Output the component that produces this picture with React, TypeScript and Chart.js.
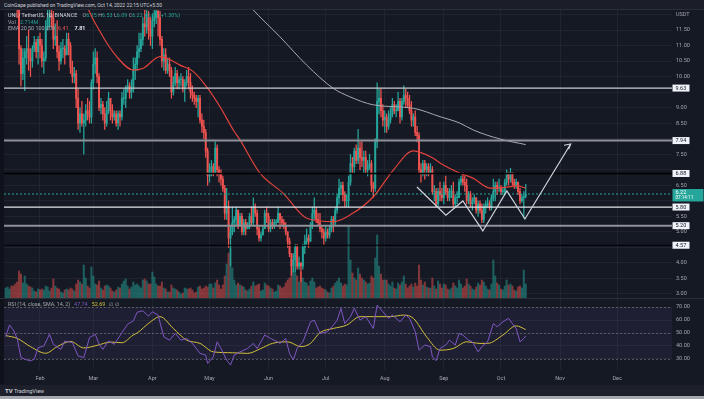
import React, { useEffect, useRef } from 'react';
import { Chart, registerables } from 'chart.js';
Chart.register(...registerables);

// ---------------- DATA ----------------
// day index: 0 = Jan 1, 2022. First candle = Jan 14, 2022
const FIRST_DAY = 13;
const FIRST_OPEN = 14.7;
const LAST_OPEN = 6.15;

const closes = [
  // Jan 14-31
  14.9, 15.2, 15.3, 14.3, 13.6, 12.8, 12.2, 10.9, 10.1, 10.6, 10.8, 10.9, 10.6, 10.5, 10.9, 11.1, 10.8, 11.2,
  // Feb
  11.0, 10.5, 10.6, 11.6, 11.9, 12.0, 11.9, 11.2, 11.3, 10.8, 10.5, 10.9, 10.9, 10.7, 11.2, 11.0, 10.3, 10.0, 10.1, 9.3, 8.5, 8.8, 8.5, 8.6, 8.9, 8.8, 8.7, 9.8,
  // Mar
  10.4, 10.6, 10.0, 9.0, 9.1, 8.8, 8.5, 8.9, 9.3, 8.9, 8.7, 8.8, 8.5, 8.8, 8.7, 9.3, 9.3, 9.6, 9.7, 9.5, 9.6, 10.2, 10.4, 10.8, 10.9, 11.2, 11.7, 11.6, 11.9, 11.5, 11.3,
  // Apr
  11.8, 11.9, 12.1, 11.9, 11.2, 10.5, 10.7, 10.2, 10.4, 10.2, 9.5, 9.8, 10.1, 9.8, 9.9, 9.9, 9.6, 9.8, 10.0, 9.8, 9.5, 9.4, 9.3, 9.2, 9.3, 8.6, 8.4, 8.2, 7.6, 6.8,
  // May
  7.0, 7.1, 6.9, 7.7, 7.0, 6.9, 6.7, 6.4, 5.6, 5.8, 4.8, 5.0, 5.3, 5.4, 5.7, 5.2, 5.5, 5.0, 5.3, 5.1, 5.2, 5.5, 5.3, 5.8, 5.6, 5.1, 4.8, 4.9, 5.1, 5.6, 5.5,
  // Jun
  5.1, 5.3, 5.2, 5.3, 5.3, 5.6, 5.4, 5.3, 5.2, 5.0, 4.7, 4.3, 3.9, 4.1, 4.5, 3.9, 4.0, 3.9, 4.5, 4.7, 4.8, 4.7, 5.2, 5.6, 5.7, 5.4, 5.3, 5.1, 5.0, 4.8,
  // Jul
  5.0, 4.9, 5.1, 5.4, 5.3, 5.7, 6.1, 6.4, 6.5, 6.2, 6.0, 6.0, 6.6, 7.2, 7.1, 7.6, 7.3, 7.7, 7.4, 7.3, 7.4, 7.0, 7.1, 7.2, 6.5, 6.4, 7.9, 9.2, 9.3, 8.9, 8.6,
  // Aug
  8.7, 8.4, 8.6, 8.8, 9.1, 8.9, 8.9, 9.2, 8.7, 9.2, 9.4, 9.3, 9.1, 8.9, 8.6, 8.7, 8.2, 8.1, 7.0, 6.9, 7.2, 7.0, 7.1, 6.9, 7.0, 6.3, 6.3, 5.9, 6.3, 6.2, 6.1,
  // Sep
  6.5, 6.3, 6.1, 6.3, 6.3, 5.9, 6.1, 6.1, 6.6, 6.7, 6.6, 6.5, 6.0, 6.2, 5.9, 6.0, 6.1, 5.7, 5.9, 5.7, 5.4, 5.8, 5.9, 5.9, 5.8, 6.1, 6.3, 6.5, 6.4, 6.4,
  // Oct 1-14
  6.3, 6.3, 6.6, 6.9, 6.7, 6.9, 6.6, 6.5, 6.6, 6.3, 6.0, 6.1, 6.14, 6.22,
];

const highs = [
  15.3, 15.6, 15.7, 15.4, 14.4, 13.8, 13.4, 12.4, 11.0, 10.9, 10.9, 11.3, 11.5, 10.9, 11.0, 11.3, 11.2, 11.3,
  11.4, 11.2, 10.8, 11.8, 12.3, 12.4, 12.6, 12.1, 11.7, 11.8, 11.0, 11.1, 11.2, 11.0, 11.4, 11.4, 11.1, 10.5, 10.3, 10.2, 9.6, 9.0, 9.2, 8.8, 9.1, 9.3, 9.2, 9.9,
  10.8, 10.9, 10.8, 10.1, 9.3, 9.2, 9.0, 9.2, 9.5, 9.3, 9.1, 8.9, 8.9, 8.9, 8.9, 9.5, 9.6, 9.7, 9.9, 9.8, 9.9, 10.6, 10.6, 11.0, 11.4, 11.4, 11.9, 12.5, 12.4, 12.1, 11.9,
  12.0, 12.6, 12.5, 12.3, 12.1, 11.3, 10.9, 10.9, 10.6, 10.6, 10.3, 10.0, 10.3, 10.2, 10.0, 10.1, 10.0, 9.9, 10.2, 10.3, 10.1, 9.7, 9.5, 9.4, 9.4, 9.4, 8.8, 8.6, 8.3, 7.7,
  7.2, 7.3, 7.2, 7.9, 7.8, 7.1, 7.0, 6.8, 6.5, 6.4, 6.0, 5.2, 5.8, 5.5, 5.8, 5.7, 5.6, 5.6, 5.4, 5.4, 5.3, 5.6, 5.8, 6.1, 5.9, 5.7, 5.2, 5.0, 5.2, 5.7, 5.8,
  5.6, 5.4, 5.4, 5.4, 5.4, 5.8, 5.6, 5.5, 5.4, 5.3, 5.0, 4.8, 4.3, 4.3, 4.6, 4.6, 4.2, 4.0, 4.6, 4.9, 5.1, 4.9, 5.3, 5.8, 6.1, 5.8, 5.6, 5.6, 5.2, 5.1,
  5.2, 5.1, 5.2, 5.5, 5.5, 5.8, 6.2, 6.7, 6.6, 6.6, 6.3, 6.2, 6.8, 7.5, 7.4, 7.7, 7.8, 8.3, 7.9, 7.9, 7.6, 7.6, 7.3, 7.5, 7.3, 6.6, 8.0, 9.8, 9.6, 9.6, 9.1,
  8.9, 8.8, 8.9, 9.0, 9.3, 9.2, 9.1, 9.5, 9.3, 9.3, 9.7, 9.6, 9.5, 9.4, 9.2, 8.8, 8.9, 8.4, 8.2, 7.2, 7.3, 7.3, 7.2, 7.2, 7.2, 7.1, 6.5, 6.4, 6.4, 6.6, 6.4,
  6.6, 6.8, 6.4, 6.4, 6.5, 6.6, 6.2, 6.3, 6.7, 6.8, 6.9, 6.8, 6.7, 6.3, 6.3, 6.1, 6.2, 6.1, 6.0, 6.0, 5.9, 5.9, 6.0, 6.1, 6.0, 6.2, 6.7, 6.6, 6.6, 6.7,
  6.5, 6.4, 6.7, 7.0, 6.9, 7.05, 6.9, 6.7, 6.7, 6.6, 6.4, 6.2, 6.3, 6.53,
];

const lows = [
  14.3, 14.7, 14.9, 14.0, 13.1, 12.6, 11.9, 10.4, 9.7, 9.9, 9.55, 10.4, 10.2, 10.0, 10.3, 10.8, 10.6, 10.4,
  10.6, 10.3, 10.1, 10.5, 11.5, 11.6, 11.6, 10.9, 11.0, 10.6, 10.2, 10.4, 10.6, 10.4, 10.7, 10.7, 10.1, 9.8, 9.8, 9.0, 8.3, 8.2, 8.4, 7.5, 8.4, 8.6, 8.5, 8.5,
  9.6, 10.1, 9.8, 8.9, 8.8, 8.6, 8.3, 8.4, 8.8, 8.6, 8.5, 8.6, 8.4, 8.3, 8.4, 8.6, 9.1, 9.0, 9.5, 9.3, 9.3, 9.5, 9.9, 10.2, 10.6, 10.8, 11.0, 11.3, 11.4, 11.2, 11.0,
  10.9, 11.6, 11.7, 11.3, 11.0, 10.3, 10.2, 10.1, 10.1, 10.0, 9.3, 9.4, 9.7, 9.6, 9.6, 9.7, 9.5, 9.2, 9.7, 9.6, 9.3, 9.2, 9.1, 9.0, 8.7, 8.5, 8.2, 8.0, 7.4, 6.5,
  6.6, 6.8, 6.8, 6.9, 6.8, 6.6, 6.5, 6.3, 5.4, 5.4, 4.5, 3.9, 4.9, 5.0, 5.2, 5.1, 5.2, 4.9, 4.9, 4.9, 5.1, 5.1, 5.2, 5.2, 5.5, 4.9, 4.7, 4.7, 4.9, 5.1, 5.3,
  5.0, 5.0, 5.1, 5.1, 5.2, 5.3, 5.1, 5.2, 5.1, 4.9, 4.5, 4.2, 3.6, 3.7, 3.7, 3.8, 3.8, 3.4, 3.8, 4.3, 4.6, 4.5, 4.7, 5.1, 5.4, 5.3, 5.2, 5.0, 4.8, 4.6,
  4.7, 4.8, 4.8, 5.0, 5.0, 5.2, 5.6, 5.9, 6.2, 6.0, 5.8, 5.8, 5.8, 6.5, 6.9, 6.9, 7.2, 7.2, 7.0, 7.1, 6.9, 6.9, 6.8, 7.0, 6.3, 6.1, 6.3, 7.7, 8.8, 8.7, 8.4,
  8.2, 8.2, 8.3, 8.5, 8.7, 8.8, 8.7, 8.9, 8.5, 8.6, 9.1, 9.0, 9.0, 8.8, 8.4, 8.4, 8.1, 7.9, 6.9, 6.6, 6.8, 6.7, 6.8, 6.8, 6.9, 6.2, 6.0, 5.8, 5.8, 6.0, 6.0,
  5.9, 6.2, 6.0, 6.0, 6.1, 5.8, 5.8, 5.9, 6.1, 6.5, 6.5, 6.3, 5.9, 5.9, 5.8, 5.7, 5.9, 5.6, 5.5, 5.6, 5.3, 5.3, 5.6, 5.8, 5.7, 5.7, 6.0, 6.0, 6.2, 6.3,
  6.2, 6.2, 6.2, 6.5, 6.5, 6.6, 6.5, 6.4, 6.4, 6.2, 5.9, 5.95, 5.45, 6.09,
];

// volume, units of 0.2M
const volumes = [
  10, 11, 9, 12, 12, 14, 16, 27, 24, 15, 22, 14, 12, 11, 10, 7, 6, 9,
  8, 9, 8, 12, 11, 7, 10, 19, 12, 10, 9, 6, 5, 8, 9, 8, 10, 9, 7, 14, 18, 16, 14, 33, 20, 12, 10, 31,
  22, 14, 13, 17, 10, 8, 12, 13, 12, 10, 7, 6, 8, 11, 10, 14, 17, 19, 12, 9, 11, 16, 13, 14, 12, 10, 18, 19, 17, 14, 14,
  26, 21, 14, 12, 12, 16, 10, 9, 6, 6, 13, 10, 9, 8, 6, 4, 5, 10, 9, 9, 10, 8, 5, 6, 11, 12, 9, 10, 12, 11,
  14, 14, 10, 15, 18, 13, 9, 13, 22, 34, 45, 50, 30, 18, 13, 15, 13, 12, 11, 8, 7, 9, 12, 16, 12, 13, 14, 7, 8, 15, 13,
  12, 10, 9, 6, 7, 13, 12, 10, 11, 15, 18, 20, 38, 30, 25, 22, 16, 26, 20, 16, 15, 12, 17, 20, 16, 10, 11, 12, 10, 9,
  8, 6, 5, 10, 12, 15, 17, 20, 15, 12, 14, 13, 72, 38, 25, 20, 18, 30, 24, 20, 18, 16, 14, 15, 22, 20, 40, 63, 32, 24, 18,
  18, 18, 14, 12, 16, 10, 9, 15, 13, 16, 22, 14, 10, 12, 14, 11, 15, 12, 33, 18, 13, 16, 11, 10, 10, 20, 12, 9, 17, 14, 10,
  14, 13, 9, 8, 10, 15, 12, 10, 18, 14, 10, 12, 19, 14, 12, 9, 8, 11, 15, 13, 18, 16, 12, 9, 8, 14, 38, 22, 15, 13,
  9, 8, 12, 18, 13, 14, 12, 8, 7, 11, 12, 10, 28, 14,
];

const ema50Days = [53, 54.6, 62.5, 71.3, 80, 85.2, 94, 97.5, 104.5, 111.5, 118.5, 125.5, 132.5, 136, 146.5, 158.7, 171, 185, 193.7, 206, 216.5, 227, 237.5, 241, 251.5, 258.3, 267.2, 276.1, 281.4, 286];
const ema50Vals = [12.9, 12.47, 11.45, 10.64, 10.21, 10.27, 10.64, 10.59, 10.37, 10.16, 9.67, 9.03, 8.28, 7.96, 6.89, 6.24, 5.44, 5.33, 5.54, 6.13, 6.99, 7.61, 7.37, 7.22, 6.89, 6.73, 6.41, 6.44, 6.48, 6.41];
const ema200Days = [140, 142.1, 157, 171, 185, 193.7, 206, 227, 241, 251.5, 258.5, 272.5, 286];
const ema200Vals = [12.35, 12.2, 11.28, 10.37, 9.62, 9.35, 9.09, 8.98, 8.71, 8.5, 8.28, 7.99, 7.81];

const rsiDays = [13, 15, 17, 19, 21, 23, 26, 28, 30, 33, 36, 38, 42, 44, 48, 51, 54, 57, 60, 62, 64, 67, 70, 74, 77, 80, 82, 85, 88, 90, 93, 96, 99, 102, 105, 108, 111, 115, 118, 119, 122, 124, 126, 129, 131, 133, 136, 140, 143, 145, 149, 152, 154, 157, 160, 162, 164, 166, 169, 173, 175, 178, 182, 185, 187, 189, 191, 194, 196, 199, 202, 206, 208, 211, 214, 216, 220, 223, 225, 228, 230, 233, 236, 237, 239, 241, 244, 246, 249, 251, 253, 256, 258, 261, 263, 266, 269, 271, 274, 277, 279, 281, 283, 285, 286];
const rsiVals = [47.2, 56.2, 52.3, 45.9, 31.1, 29.8, 28.5, 29.8, 38.7, 40, 49, 41.3, 37.4, 43.8, 42.6, 32.3, 31.1, 46.5, 49, 41.3, 37.4, 43.8, 41.3, 50.3, 56.7, 59.4, 66, 67.1, 63, 66.4, 63.8, 47, 44.5, 49.7, 44.5, 45.8, 42, 34.3, 33, 26.6, 31.7, 43.2, 38.1, 29.2, 25.3, 33, 35.5, 38.1, 42, 38.1, 48.4, 45.8, 44.5, 42, 45.8, 34.3, 29.2, 38.1, 43.2, 58.6, 59.9, 49.7, 51, 56.1, 59.9, 68.9, 57.3, 62.6, 69, 60, 62.6, 53.5, 71.5, 66.4, 61.3, 63.8, 58.6, 63.8, 61.3, 51, 36.8, 40.7, 39.5, 31.7, 28.7, 38.1, 40.7, 44.5, 40.7, 49.7, 48.4, 44.5, 43.2, 35.5, 39.5, 43.2, 57.3, 54.8, 58.6, 61.3, 57.3, 53.5, 43.2, 45.8, 47.74];
const smaDays = [13, 19, 26, 34, 40, 47, 54, 61, 68, 74, 80, 82, 89, 94, 101, 108, 115, 122, 132, 140, 147, 153, 161, 168, 173, 178, 185, 192, 199, 206, 215, 222, 227, 234, 241, 248, 255, 262, 266, 274, 281, 286];
const smaVals = [48, 45.9, 39.5, 34.4, 39.5, 43.5, 38.5, 40.5, 43, 42.5, 48.5, 50, 58.6, 62.6, 53.5, 44.5, 42, 35.5, 34.8, 34.3, 38.1, 42, 43.2, 39.5, 42, 50.3, 53.5, 56.1, 62.6, 62.6, 62.6, 63.8, 61.3, 47, 36.8, 38.1, 43.2, 42, 42, 48.4, 55.5, 52.69];

const levelValues = [9.63, 7.94, 6.88, 5.8, 5.2, 4.57];
const patternDays = [228.9, 244.1, 253.0, 263.5, 276.1, 285.6, 309.6];
const patternVals = [6.445, 5.54, 5.995, 5.03, 6.32, 5.415, 7.83];
const arrowDays = [306.1, 309.6, 308.5];
const arrowVals = [7.79, 7.83, 7.66];

const monthStarts = [31, 59, 90, 120, 151, 181, 212, 243, 273, 304, 334];
const monthLabels = ['Feb', 'Mar', 'Apr', 'May', 'Jun', 'Jul', 'Aug', 'Sep', 'Oct', 'Nov', 'Dec'];
const priceTicks = [3, 3.5, 4, 4.5, 5, 5.5, 6, 6.5, 7, 7.5, 8, 8.5, 9, 9.5, 10, 10.5, 11, 11.5, 12];
const rsiTicks = [30, 40, 50, 60, 70];
const rsiLevels = [70, 50, 30];

// ---------------- STYLE / AXES ----------------
const X_MIN = 12.1, X_MAX = 362.8;
const P_MIN = 2.871, P_MAX = 12.144;
const RSI_MIN = 21.5, RSI_MAX = 76.2;
const VOL_MAX = 288;
const BG = '#151924';
const GRID = 'rgba(42,46,57,0.55)';
const UP = '#26a69a', DOWN = '#ef5350';
const VOL_UP = 'rgba(38,166,154,0.5)', VOL_DOWN = 'rgba(239,83,80,0.5)';
const TXT = '#a3a6af';
const FONT = 'Roboto, "Liberation Sans", sans-serif';
const levelColors = ['#c9cbd1', '#8f9299', '#000000', '#e4e6ea', '#8f9299', '#000000'];
const levelWidths = [1.3, 2, 1.6, 1.3, 2, 1.1];
const COUNTDOWN = '07:14:11';

const n = closes.length;
const days = closes.map((_, i) => FIRST_DAY + i);
const opens = closes.map((_, i) => (i === 0 ? FIRST_OPEN : i === n - 1 ? LAST_OPEN : closes[i - 1]));
const isUp = closes.map((c, i) => c >= opens[i]);
const pts = (xs: number[], ys: number[]) => xs.map((x, i) => ({ x, y: ys[i] }));

const pxPerUnit = 288 / (P_MAX - P_MIN);

function priceLabel(v: number) {
  if (v === 12) return 'USDT';
  const last = closes[n - 1];
  if (levelValues.some((b) => Math.abs(b - v) * pxPerUnit < 5)) return '';
  const d = (v - last) * pxPerUnit;
  if (d > -10.5 && d < 8) return '';
  return v.toFixed(2);
}

const boxesPlugin = {
  id: 'boxes',
  afterDraw(chart: any) {
    const { ctx, chartArea: a, scales } = chart;
    const y = scales.y;
    ctx.save();
    ctx.font = `5.5px ${FONT}`;
    ctx.textBaseline = 'middle';
    ctx.textAlign = 'left';
    levelValues.forEach((v) => {
      const py = y.getPixelForValue(v);
      ctx.fillStyle = '#f0f3fa';
      ctx.fillRect(a.right + 0.5, py - 3.5, 17, 7);
      ctx.fillStyle = '#131722';
      ctx.fillText(v.toFixed(2), a.right + 3.5, py + 0.3);
    });
    const last = closes[n - 1];
    const py = y.getPixelForValue(last);
    ctx.fillStyle = UP;
    ctx.fillRect(a.right + 0.5, py - 5, 31, 12.5);
    ctx.fillStyle = '#ffffff';
    ctx.fillText(last.toFixed(2), a.right + 3.5, py - 1);
    ctx.font = `4.6px ${FONT}`;
    ctx.fillText(COUNTDOWN, a.right + 3.5, py + 4);
    ctx.restore();
  },
};

const rsiBandPlugin = {
  id: 'rsiBand',
  beforeDatasetsDraw(chart: any) {
    const { ctx, chartArea: a, scales } = chart;
    const y = scales.y;
    const top = y.getPixelForValue(rsiLevels[0]);
    const bot = y.getPixelForValue(rsiLevels[2]);
    ctx.save();
    ctx.fillStyle = 'rgba(126,87,194,0.1)';
    ctx.fillRect(a.left, top, a.right - a.left, bot - top);
    ctx.strokeStyle = 'rgba(120,123,134,0.6)';
    ctx.lineWidth = 1;
    ctx.setLineDash([2, 2]);
    rsiLevels.forEach((v) => {
      const p = Math.round(y.getPixelForValue(v)) + 0.5;
      ctx.beginPath();
      ctx.moveTo(a.left, p);
      ctx.lineTo(a.right, p);
      ctx.stroke();
    });
    ctx.restore();
  },
};

function xScale(showLabels: boolean) {
  return {
    type: 'linear',
    min: X_MIN,
    max: X_MAX,
    offset: false,
    grid: { color: GRID, drawTicks: false, offset: false },
    border: { display: false },
    ticks: {
      display: showLabels,
      autoSkip: false,
      maxRotation: 0,
      color: TXT,
      padding: 5,
      font: { size: 5.5, family: FONT },
      callback: (v: number) => monthLabels[monthStarts.indexOf(v)] ?? '',
    },
    afterBuildTicks: (s: any) => {
      s.ticks = monthStarts.map((v) => ({ value: v }));
    },
    afterFit: (s: any) => {
      s.height = showLabels ? 15 : 0;
      s.paddingLeft = 0;
      s.paddingRight = 0;
    },
  };
}

function yRight(min: number, max: number, ticks: number[], cb: (v: number) => string) {
  return {
    position: 'right',
    min,
    max,
    grid: { color: GRID, drawTicks: false },
    border: { display: false },
    ticks: {
      autoSkip: false,
      color: TXT,
      padding: 4,
      font: { size: 5.5, family: FONT },
      callback: cb,
    },
    afterBuildTicks: (s: any) => {
      s.ticks = ticks.map((v) => ({ value: v }));
    },
    afterFit: (s: any) => {
      s.width = 32;
      s.paddingTop = 0;
      s.paddingBottom = 0;
    },
  };
}

function mainConfig(): any {
  const line = (data: any[], color: string, width: number, order: number, extra: any = {}) => ({
    type: 'line',
    data,
    yAxisID: 'y',
    borderColor: color,
    borderWidth: width,
    pointRadius: 0,
    fill: false,
    order,
    ...extra,
  });
  return {
    type: 'bar',
    data: {
      datasets: [
        line(pts(patternDays, patternVals), '#d1d4dc', 1.2, 1),
        line(pts(arrowDays, arrowVals), '#d1d4dc', 1.2, 1),
        ...levelValues.map((v, i) => line([{ x: X_MIN, y: v }, { x: X_MAX, y: v }], levelColors[i], levelWidths[i], 2)),
        line([{ x: X_MIN, y: closes[n - 1] }, { x: X_MAX, y: closes[n - 1] }], UP, 1, 3, { borderDash: [2, 2] }),
        line(pts(ema50Days, ema50Vals), '#e0433c', 1.2, 4, { cubicInterpolationMode: 'monotone' }),
        line(pts(ema200Days, ema200Vals), '#a7aab3', 1, 4, { cubicInterpolationMode: 'monotone' }),
        {
          type: 'bar',
          yAxisID: 'y',
          data: days.map((d, i) => ({ x: d, y: [opens[i], closes[i]] })),
          backgroundColor: isUp.map((u) => (u ? UP : DOWN)),
          barThickness: 1.3,
          minBarLength: 0.7,
          grouped: false,
          order: 6,
        },
        {
          type: 'bar',
          yAxisID: 'y',
          data: days.map((d, i) => ({ x: d, y: [lows[i], highs[i]] })),
          backgroundColor: isUp.map((u) => (u ? UP : DOWN)),
          barThickness: 0.6,
          grouped: false,
          order: 7,
        },
        {
          type: 'bar',
          yAxisID: 'yv',
          data: days.map((d, i) => ({ x: d, y: volumes[i] })),
          backgroundColor: isUp.map((u) => (u ? VOL_UP : VOL_DOWN)),
          barThickness: 1.4,
          grouped: false,
          order: 9,
        },
      ],
    },
    options: {
      responsive: false,
      animation: false,
      devicePixelRatio: 1,
      layout: { padding: { left: 4, right: 0, top: 0, bottom: 0 } },
      plugins: { legend: { display: false }, tooltip: { enabled: false } },
      scales: {
        x: xScale(false),
        y: yRight(P_MIN, P_MAX, priceTicks, (v: number) => priceLabel(v)),
        yv: { display: false, min: 0, max: VOL_MAX },
      },
    },
    plugins: [boxesPlugin],
  };
}

function rsiConfig(): any {
  return {
    type: 'line',
    data: {
      datasets: [
        { data: pts(smaDays, smaVals), borderColor: '#d3c03a', borderWidth: 1, pointRadius: 0, cubicInterpolationMode: 'monotone', order: 2 },
        { data: pts(rsiDays, rsiVals), borderColor: '#7e57c2', borderWidth: 1, pointRadius: 0, order: 1 },
      ],
    },
    options: {
      responsive: false,
      animation: false,
      devicePixelRatio: 1,
      layout: { padding: { left: 4, right: 0, top: 0, bottom: 0 } },
      plugins: { legend: { display: false }, tooltip: { enabled: false } },
      scales: {
        x: xScale(true),
        y: yRight(RSI_MIN, RSI_MAX, rsiTicks, (v: number) => v.toFixed(2)),
      },
    },
    plugins: [rsiBandPlugin],
  };
}

const span = (text: string, color: string, extra: any = {}) => (
  <span style={{ color, ...extra }}>{text}</span>
);

export default function App() {
  const mainRef = useRef<HTMLCanvasElement>(null);
  const rsiRef = useRef<HTMLCanvasElement>(null);

  useEffect(() => {
    document.body.style.margin = '0';
    const main = new Chart(mainRef.current as HTMLCanvasElement, mainConfig());
    const rsi = new Chart(rsiRef.current as HTMLCanvasElement, rsiConfig());
    return () => {
      main.destroy();
      rsi.destroy();
    };
  }, []);

  const last = closes[n - 1];
  const prev = closes[n - 2];
  const chg = last - prev;
  const pct = (chg / prev) * 100;
  const lineStyle: any = { position: 'absolute', left: 8, whiteSpace: 'nowrap', fontSize: 5.4, lineHeight: '6px' };

  return (
    <div style={{ position: 'fixed', left: 0, top: 0, width: 704, height: 399, background: BG, overflow: 'hidden', fontFamily: FONT }}>
      <div style={{ position: 'absolute', left: 0, top: 0, width: 4, height: 384, background: '#0f121a' }} />
      <div style={{ position: 'absolute', left: 0, top: 0, width: 704, height: 9, background: '#1b1e29', borderBottom: '1px solid #2a2e39' }}>
        <span style={{ position: 'absolute', left: 4, top: 1.5, fontSize: 5, lineHeight: '6px', color: '#d1d4dc', whiteSpace: 'nowrap' }}>
          CoinGape published on TradingView.com, Oct 14, 2022 22:15 UTC+5:30
        </span>
      </div>
      <canvas ref={mainRef} width={704} height={288} style={{ position: 'absolute', left: 0, top: 10, width: 704, height: 288 }} />
      <div style={{ position: 'absolute', left: 0, top: 298, width: 704, height: 1, background: '#2a2e39' }} />
      <canvas ref={rsiRef} width={704} height={86} style={{ position: 'absolute', left: 0, top: 299, width: 704, height: 86 }} />

      <div style={{ ...lineStyle, top: 12 }}>
        {span('UNI / TetherUS, 1D, BINANCE', '#d1d4dc')}
        {span('  O', TXT, { marginLeft: 4 })}{span(opens[n - 1].toFixed(2), UP)}
        {span(' H', TXT)}{span(highs[n - 1].toFixed(2), UP)}
        {span(' L', TXT)}{span(lows[n - 1].toFixed(2), UP)}
        {span(' C', TXT)}{span(last.toFixed(2), UP)}
        {span(` +${chg.toFixed(2)} (+${pct.toFixed(2)}%)`, UP)}
      </div>
      <div style={{ ...lineStyle, top: 18.5 }}>
        {span('Vol', TXT)}{span('  2.714M', UP, { marginLeft: 3 })}
      </div>
      <div style={{ ...lineStyle, top: 25 }}>
        {span('EMA 20 50 100 200', TXT)}
        {span(ema50Vals[ema50Vals.length - 1].toFixed(2), '#ef5350', { marginLeft: 3 })}
        {span(ema200Vals[ema200Vals.length - 1].toFixed(2), '#e6e8ee', { marginLeft: 6, fontWeight: 700 })}
      </div>
      <div style={{ ...lineStyle, top: 300.5 }}>
        {span('RSI (14, close, SMA, 14, 2)', TXT)}
        {span(rsiVals[rsiVals.length - 1].toFixed(2), '#7e57c2', { marginLeft: 4 })}
        {span(smaVals[smaVals.length - 1].toFixed(2), '#d3c03a', { marginLeft: 4 })}
        {span('∅  ∅', TXT, { marginLeft: 4 })}
      </div>

      <div style={{ position: 'absolute', left: 0, top: 385, width: 704, height: 11, background: '#1d202a' }}>
        <span style={{ position: 'absolute', left: 5, top: 2.5, fontSize: 5.5, lineHeight: '6px', color: '#d1d4dc', whiteSpace: 'nowrap' }}>
          <b style={{ fontSize: 6 }}>TV</b> TradingView
        </span>
      </div>
      <div style={{ position: 'absolute', left: 0, top: 396, width: 704, height: 3, background: '#a4a7ae' }} />
    </div>
  );
}
